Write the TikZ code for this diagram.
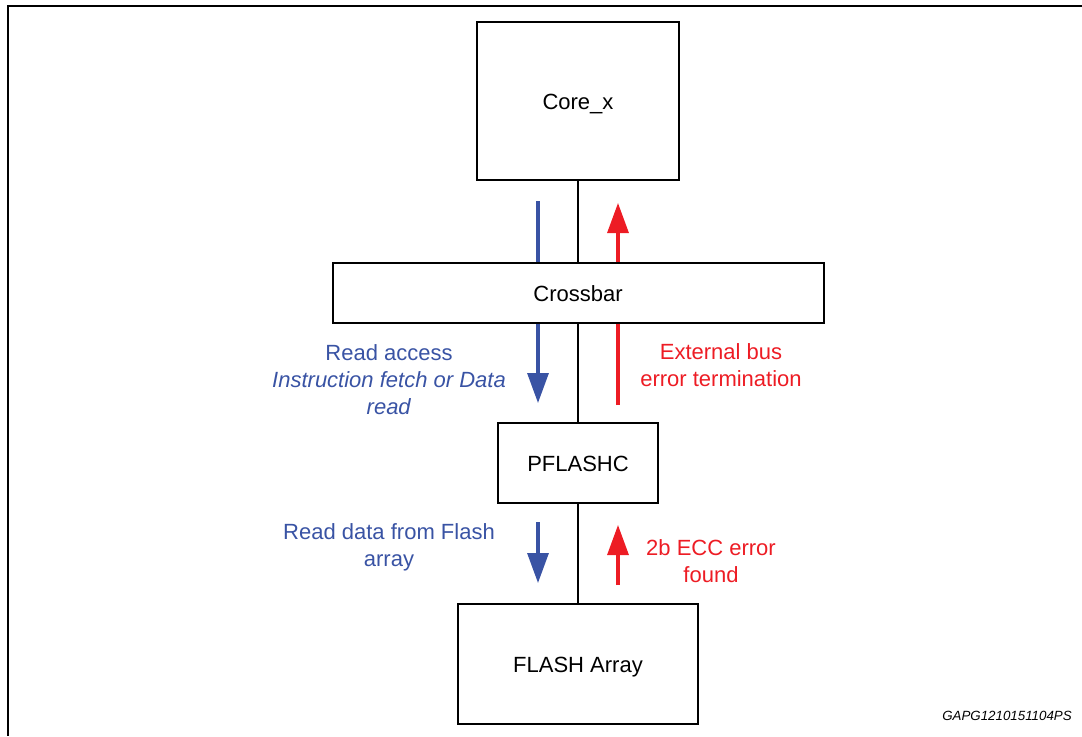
\documentclass[tikz,border=0pt]{standalone}
\usepackage{fontspec}
\setmainfont{Liberation Sans}
\usepackage{tikz}
\usetikzlibrary{positioning,calc,arrows.meta}
\definecolor{stblue}{HTML}{3953A4}
\definecolor{stred}{HTML}{ED1C24}
\tikzset{
	bus flow/.style={
		x=0.75pt,
		y=-0.75pt,
		font=\fontsize{16.5}{20.25}\selectfont,
		every node/.style={inner sep=0pt}
	},
	block/.style={
		rectangle,
		draw,
		line width=1.5pt,
		fill=white,
		text height=12pt,text depth=0pt % same baseline in every box
	},
	bus line/.style={
		line width=1.5pt
	},
	read flow/.style={
		draw=stblue,
		line width=2.4pt
	},
	error flow/.style={
		draw=stred,
		line width=2.4pt
	},
	flow tip/.style={
		-{Triangle[length=22.5pt,width=15.75pt]}
	},
	read label/.style={
		text=stblue,
		align=center
	},
	error label/.style={
		text=stred,
		align=center
	}
}

\begin{document}
\begin{tikzpicture}[bus flow]
	\useasboundingbox (0,0) rectangle (1082,736);
	% open frame, only top and left edge are visible
	\draw[line width=1.5pt] (1082,6) -- (8,6) -- (8,736);

	\node[block,minimum width=151.5pt,minimum height=118.5pt] (core) at (578,101) {Core\_x};
	\node[block,minimum width=368.25pt,minimum height=45pt] (xbar) at (578,293) {Crossbar};
	\node[block,minimum width=120pt,minimum height=60pt] (pflash) at (578,463) {PFLASHC};
	\node[block,minimum width=180pt,minimum height=90pt] (flash) at (578,664) {FLASH Array};

	\draw[bus line] (core) -- (xbar);
	\draw[bus line] (xbar) -- (pflash);
	\draw[bus line] (pflash) -- (flash);

	% read path (blue) and error path (red)
	\coordinate (rd top) at (538,201);
	\coordinate (rd tip) at (538,403);
	\coordinate (err tail) at (618,405);
	\coordinate (err tip) at (618,203);
	\coordinate (fl top) at (538,522);
	\coordinate (fl tip) at (538,583);
	\coordinate (ecc tail) at (618,585);
	\coordinate (ecc tip) at (618,525);

	\draw[read flow] (rd top) -- (rd top |- xbar.north);
	\draw[read flow,flow tip] (rd top |- xbar.south) -- (rd tip);
	\draw[error flow] (err tail) -- (err tail |- xbar.south);
	\draw[error flow,flow tip] (err tail |- xbar.north) -- (err tip);
	\draw[read flow,flow tip] (fl top) -- (fl tip);
	\draw[error flow,flow tip] (ecc tail) -- (ecc tip);

	\node[read label] (readacc) at (389,380) {Read access\\\textit{Instruction fetch or Data}\\\textit{read}};
	\node[error label] (extbus) at (721,365) {External bus\\error termination};
	\node[read label] (readdata) at (389,547) {Read data from Flash\\array};
	\node[error label] (ecc) at (711,561) {2b ECC error\\found};

	\node[anchor=east,font=\fontsize{10}{12}\selectfont\itshape] (docid) at (1072,716) {GAPG1210151104PS};
\end{tikzpicture}
\end{document}
